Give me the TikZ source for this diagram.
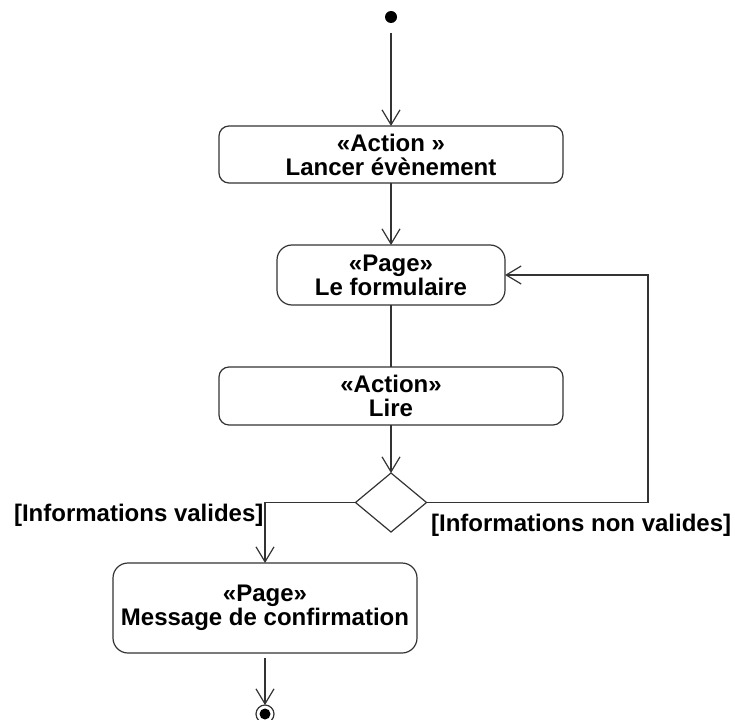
\documentclass[tikz,border=0pt]{standalone}
\usepackage{fontspec}
\setmainfont{Liberation Sans}
\usetikzlibrary{positioning, arrows.meta, shapes.geometric}
\tikzset{
  box/.style={draw=black!80, line width=1.2pt, rounded corners=10pt, align=center, minimum width=344pt, minimum height=58pt, inner sep=2pt, outer sep=0pt},
  decision/.style={diamond, draw=black!80, line width=1.2pt, minimum width=71pt, minimum height=59pt, inner sep=0pt, outer sep=0pt},
  startdot/.style={circle, fill=black, minimum size=12pt, inner sep=0pt, outer sep=0pt},
  enddot/.style={circle, draw=black!80, line width=1.2pt, minimum size=18pt, inner sep=0pt, outer sep=0pt,
    path picture={\fill (path picture bounding box.center) circle (5.5pt);}},
  guard/.style={inner sep=1pt},
  flow/.style={draw=black!80, line width=1.2pt, -{Straight Barb[length=15pt, width=18pt]}},
  every node/.append style={font=\fontsize{24}{24}\selectfont\bfseries},
}

\begin{document}
\begin{tikzpicture}[x=1pt, y=-1pt]
    \useasboundingbox (0,0) rectangle (735,719);
    \node[startdot] (debut) at (391,17) {};
    \node[box, minimum height=57pt, below=103pt of debut] (lancer) {«Action »\\Lancer évènement};
    \node[box, rounded corners=15pt, minimum width=228pt, minimum height=60pt, below=62pt of lancer] (formulaire) {«Page»\\Le formulaire};
    \node[box, below=62pt of formulaire] (lire) {«Action»\\Lire};
    \node[decision, below=48pt of lire] (choix) {};
    \node[box, rounded corners=15pt, minimum width=304pt, minimum height=90pt, below=31pt of choix, xshift=-126pt] (confirmation) {«Page»\\Message de confirmation};
    \node[enddot, below=52pt of confirmation] (fin) {};
    \draw[flow, shorten <=10pt] (debut) -- (lancer);
    \draw[flow] (lancer) -- (formulaire);
    \draw[flow, -] (formulaire) -- (lire);
    \draw[flow] (lire) -- (choix);
    \draw[flow] (choix.west) -| node[guard, pos=0.5, anchor=north east] {[Informations valides]} (confirmation.north);
    \draw[flow] (choix.east) -| node[guard, pos=0, anchor=north west, xshift=3pt, yshift=-10pt] {[Informations non valides]} ([xshift=143pt]formulaire.east) -- (formulaire.east);
    \draw[flow, shorten <=5pt] (confirmation) -- (fin);
  \end{tikzpicture}
\end{document}
